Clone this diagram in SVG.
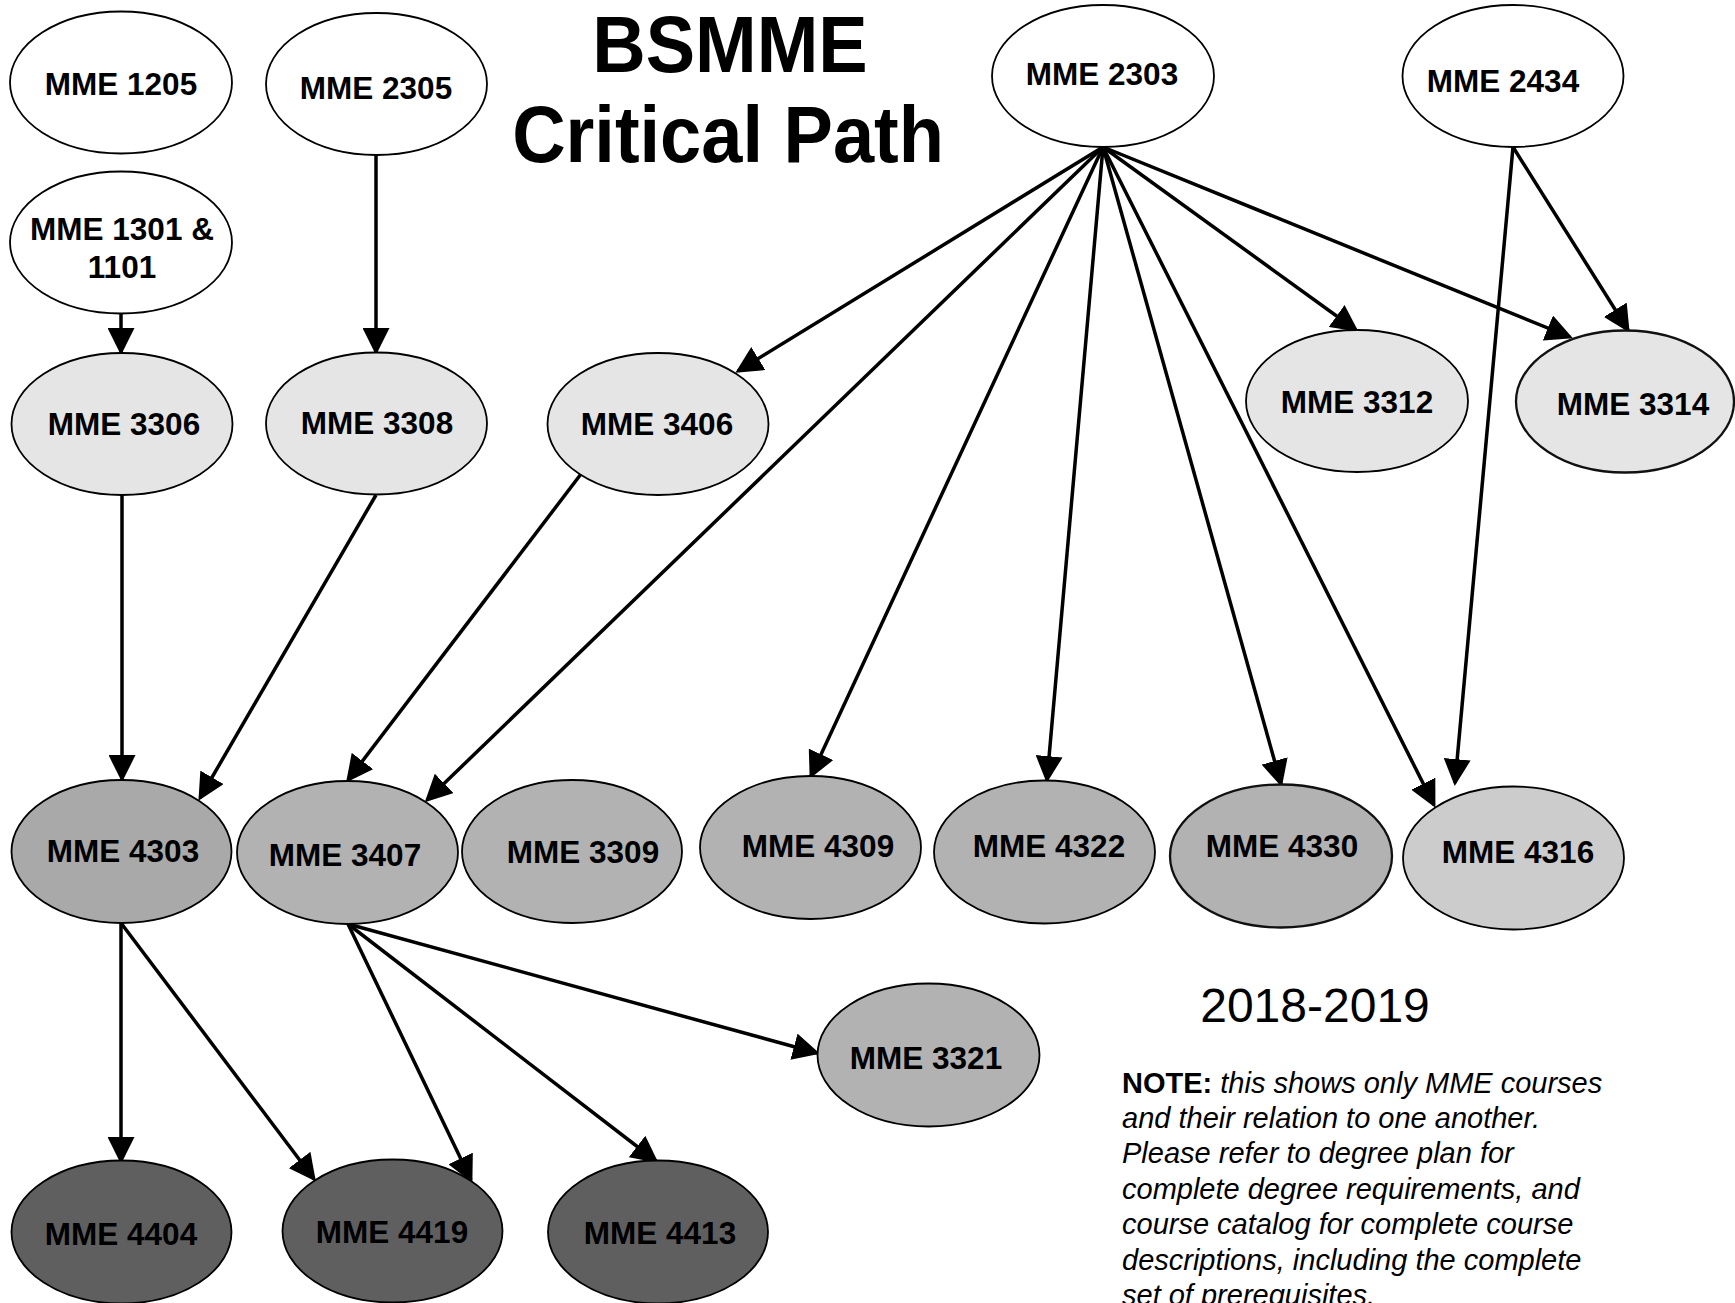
<svg xmlns="http://www.w3.org/2000/svg" width="1735" height="1303" viewBox="0 0 1735 1303">
<style>
.n ellipse{stroke:#000;stroke-width:1.8}
.n text{font-family:"Liberation Sans",Arial,sans-serif;font-weight:bold;font-size:31.5px;text-anchor:middle;fill:#000}
.w{fill:#fff}.l{fill:#e5e5e5}.m{fill:#b2b2b2}.m2{fill:#a9a9a9}.p{fill:#cccccc}.d{fill:#5f5f5f}
.n ellipse.thick{stroke-width:2.3;stroke:#111}
#edges line{stroke:#000;stroke-width:3.5;fill:none}
.title{font-family:"Liberation Sans",Arial,sans-serif;font-weight:bold;font-size:74px;text-anchor:middle}
.note{font-family:"Liberation Sans",Arial,sans-serif;font-size:29px;font-style:italic}
</style>
<defs>
<marker id="ah" markerUnits="userSpaceOnUse" markerWidth="27" markerHeight="27" viewBox="0 0 26 26" refX="23" refY="13" orient="auto">
<path d="M0,0 L26,13 L0,26 z" fill="#000"/>
</marker>
</defs>
<rect width="1735" height="1303" fill="#fff"/>
<g id="edges">
<line x1="121" y1="313" x2="121" y2="352" marker-end="url(#ah)"/>
<line x1="376" y1="155" x2="376" y2="352" marker-end="url(#ah)"/>
<line x1="122" y1="495" x2="122" y2="779" marker-end="url(#ah)"/>
<line x1="376" y1="495" x2="200" y2="798" marker-end="url(#ah)"/>
<line x1="581" y1="474" x2="348" y2="780" marker-end="url(#ah)"/>
<line x1="1103" y1="147" x2="738" y2="371" marker-end="url(#ah)"/>
<line x1="1103" y1="147" x2="427" y2="800" marker-end="url(#ah)"/>
<line x1="1103" y1="147" x2="811" y2="776" marker-end="url(#ah)"/>
<line x1="1103" y1="147" x2="1047" y2="780" marker-end="url(#ah)"/>
<line x1="1103" y1="147" x2="1281" y2="784" marker-end="url(#ah)"/>
<line x1="1103" y1="147" x2="1434" y2="805" marker-end="url(#ah)"/>
<line x1="1103" y1="147" x2="1356" y2="330" marker-end="url(#ah)"/>
<line x1="1103" y1="147" x2="1570" y2="337" marker-end="url(#ah)"/>
<line x1="1513" y1="147" x2="1628" y2="330" marker-end="url(#ah)"/>
<line x1="1513" y1="147" x2="1455" y2="783" marker-end="url(#ah)"/>
<line x1="121" y1="923" x2="121" y2="1161" marker-end="url(#ah)"/>
<line x1="121" y1="923" x2="314" y2="1179" marker-end="url(#ah)"/>
<line x1="348" y1="924" x2="471" y2="1180" marker-end="url(#ah)"/>
<line x1="348" y1="924" x2="656" y2="1161" marker-end="url(#ah)"/>
<line x1="348" y1="924" x2="817" y2="1053" marker-end="url(#ah)"/>
</g>
<g id="mme1205" class="n"><ellipse class="w" cx="121" cy="82.5" rx="111" ry="71"/><text x="121" y="95">MME 1205</text></g>
<g id="mme2305" class="n"><ellipse class="w" cx="376.5" cy="84" rx="110.5" ry="71"/><text x="376" y="99">MME 2305</text></g>
<g id="mme1301" class="n"><ellipse class="w" cx="121" cy="242.5" rx="111" ry="71"/><text x="122" y="240">MME 1301 &amp;</text><text x="122" y="278">1101</text></g>
<g id="mme3306" class="n"><ellipse class="l" cx="122" cy="424" rx="110.5" ry="71"/><text x="124" y="435">MME 3306</text></g>
<g id="mme3308" class="n"><ellipse class="l" cx="376.5" cy="423.5" rx="110.5" ry="71"/><text x="377" y="434">MME 3308</text></g>
<g id="mme3406" class="n"><ellipse class="l" cx="658" cy="424" rx="110.5" ry="71"/><text x="657" y="435">MME 3406</text></g>
<g id="mme2303" class="n"><ellipse class="w" cx="1103" cy="76" rx="111" ry="71"/><text x="1102" y="85">MME 2303</text></g>
<g id="mme2434" class="n"><ellipse class="w" cx="1513" cy="76" rx="110.5" ry="71"/><text x="1503" y="92">MME 2434</text></g>
<g id="mme3312" class="n"><ellipse class="l" cx="1357" cy="401" rx="111" ry="71"/><text x="1357" y="413">MME 3312</text></g>
<g id="mme3314" class="n"><ellipse class="l thick" cx="1625" cy="401.5" rx="109" ry="71"/><text x="1633" y="415">MME 3314</text></g>
<g id="mme4303" class="n"><ellipse class="m2" cx="121.5" cy="851.5" rx="110" ry="71.5"/><text x="123" y="862">MME 4303</text></g>
<g id="mme3407" class="n"><ellipse class="m" cx="347.5" cy="852.5" rx="110.5" ry="71.5"/><text x="345" y="866">MME 3407</text></g>
<g id="mme3309" class="n"><ellipse class="m" cx="572" cy="851.5" rx="110" ry="71.5"/><text x="583" y="863">MME 3309</text></g>
<g id="mme4309" class="n"><ellipse class="m" cx="810.5" cy="847.5" rx="110.5" ry="71.5"/><text x="818" y="857">MME 4309</text></g>
<g id="mme4322" class="n"><ellipse class="m" cx="1044.5" cy="852" rx="110.5" ry="71.5"/><text x="1049" y="857">MME 4322</text></g>
<g id="mme4330" class="n"><ellipse class="m thick" cx="1281" cy="856" rx="111" ry="71.5"/><text x="1282" y="857">MME 4330</text></g>
<g id="mme4316" class="n"><ellipse class="p" cx="1513.5" cy="858" rx="110.5" ry="71.5"/><text x="1518" y="863">MME 4316</text></g>
<g id="mme3321" class="n"><ellipse class="m" cx="928.5" cy="1055" rx="111" ry="71.5"/><text x="926" y="1069">MME 3321</text></g>
<g id="mme4404" class="n"><ellipse class="d" cx="121.5" cy="1232" rx="110" ry="71.5"/><text x="121" y="1245">MME 4404</text></g>
<g id="mme4419" class="n"><ellipse class="d" cx="392.5" cy="1231" rx="110" ry="71.5"/><text x="392" y="1243">MME 4419</text></g>
<g id="mme4413" class="n"><ellipse class="d" cx="658" cy="1232" rx="110" ry="71.5"/><text x="660" y="1244">MME 4413</text></g>
<text class="title" transform="translate(730,72) scale(1,1.07)">BSMME</text>
<text class="title" transform="translate(728,162) scale(1,1.07)">Critical Path</text>
<text x="1315" y="1022" font-family="Liberation Sans, Arial, sans-serif" font-size="48" text-anchor="middle">2018-2019</text>
<g class="note">
<text x="1122" y="1093"><tspan font-weight="bold" font-style="normal">NOTE:</tspan> this shows only MME courses</text>
<text x="1122" y="1128">and their relation to one another.</text>
<text x="1122" y="1163">Please refer to degree plan for</text>
<text x="1122" y="1199">complete degree requirements, and</text>
<text x="1122" y="1234">course catalog for complete course</text>
<text x="1122" y="1270">descriptions, including the complete</text>
<text x="1122" y="1305">set of prerequisites.</text>
</g>
</svg>
